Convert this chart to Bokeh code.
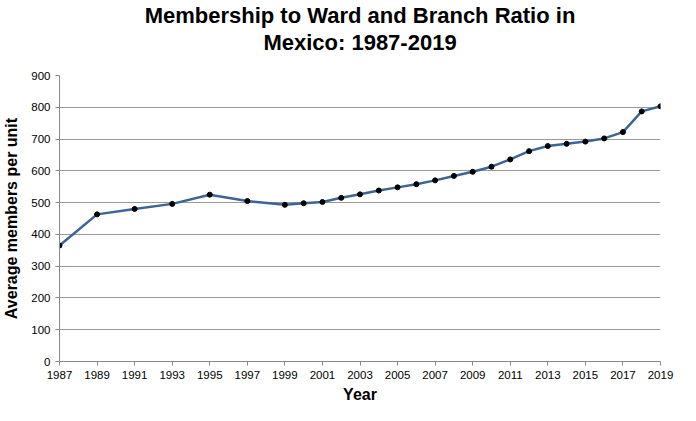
from bokeh.plotting import figure
from bokeh.models import Title, FixedTicker, Range1d
from bokeh.embed import file_html
from bokeh.resources import INLINE

years = [1987, 1989, 1991, 1993, 1995, 1997, 1999, 2000, 2001, 2002, 2003, 2004, 2005, 2006,
         2007, 2008, 2009, 2010, 2011, 2012, 2013, 2014, 2015, 2016, 2017, 2018, 2019]
members = [365, 463, 480, 496, 525, 505, 493, 498, 502, 515, 526, 538, 548, 558,
           570, 584, 597, 613, 636, 662, 678, 685, 692, 702, 722, 787, 803]
xticks = list(range(1987, 2020, 2))
yticks = list(range(0, 901, 100))

p = figure(width=680, height=405, output_backend="svg", toolbar_location=None,
           x_range=Range1d(1987, 2019), y_range=Range1d(0, 900),
           min_border_left=14, min_border_right=20, min_border_bottom=12)
p.title = None
p.add_layout(Title(text=" ", text_font_size="8px"), "above")
p.add_layout(Title(text="Mexico: 1987-2019", align="center", text_font="Liberation Sans",
                   text_font_size="22px", text_font_style="bold", text_color="black",
                   standoff=0, offset=0), "above")
p.add_layout(Title(text="Membership to Ward and Branch Ratio in", align="center", text_font="Liberation Sans",
                   text_font_size="22px", text_font_style="bold", text_color="black",
                   standoff=0), "above")

p.line(years, members, line_color="#3e6496", line_width=2.5)
p.scatter(years, members, size=5, color="black")

p.xaxis.ticker = FixedTicker(ticks=xticks)
p.yaxis.ticker = FixedTicker(ticks=yticks)
p.xaxis.axis_label = "Year"
p.yaxis.axis_label = "Average members per unit"
for ax in (p.xaxis, p.yaxis):
    ax.axis_label_text_font = "Liberation Sans"
    ax.axis_label_text_font_style = "bold"
    ax.axis_label_text_font_size = "16px"
    ax.axis_label_text_color = "black"
    ax.major_label_text_font = "Liberation Sans"
    ax.major_label_text_font_size = "11.5px"
    ax.major_label_text_color = "black"
    ax.axis_line_color = "#888888"
    ax.major_tick_line_color = "#888888"
    ax.minor_tick_line_color = None
    ax.major_tick_in = 0
    ax.major_tick_out = 4
p.xaxis.axis_label_standoff = 4
p.yaxis.axis_label_standoff = 8
p.xgrid.grid_line_color = None
p.ygrid.grid_line_color = "#999999"
p.outline_line_color = None
p.border_fill_color = "white"
p.background_fill_color = "white"

open("out.html", "w").write(file_html(p, INLINE))
